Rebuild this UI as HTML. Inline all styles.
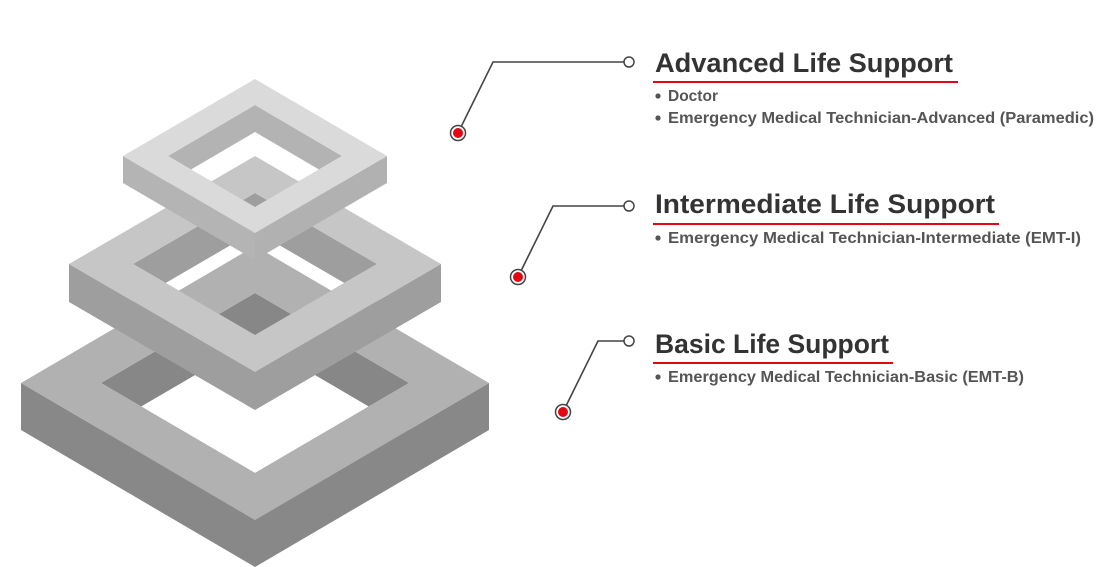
<!DOCTYPE html>
<html><head><meta charset="utf-8"><style>
html,body{margin:0;padding:0;background:#fff;}
svg{display:block;}
text{font-family:"Liberation Sans",sans-serif;font-weight:bold;}
</style></head><body>
<svg width="1112" height="567" viewBox="0 0 1112 567" xmlns="http://www.w3.org/2000/svg">
<!-- bottom frame -->
<polygon points="21,383 255,520 255,567 21,430" fill="#888888"/>
<polygon points="489,383 255,520 255,567 489,430" fill="#888888"/>
<path fill-rule="evenodd" fill="#878787" d="M255,293 L409,383 L255,473 L101,383 Z M255,340 L409,430 L255,520 L101,430 Z"/>
<path fill-rule="evenodd" fill="#b1b1b1" d="M255,246 L489,383 L255,520 L21,383 Z M255,293 L409,383 L255,473 L101,383 Z"/>
<!-- middle frame -->
<polygon points="69,264 255,372 255,410 69,302" fill="#9e9e9e"/>
<polygon points="441,264 255,372 255,410 441,302" fill="#9e9e9e"/>
<path fill-rule="evenodd" fill="#9e9e9e" d="M255,193 L377,264 L255,335 L133,264 Z M255,231 L377,302 L255,373 L133,302 Z"/>
<path fill-rule="evenodd" fill="#c6c6c6" d="M255,156 L441,264 L255,372 L69,264 Z M255,193 L377,264 L255,335 L133,264 Z"/>
<!-- top frame -->
<polygon points="123,156 255,233 255,260 123,183" fill="#b4b4b4"/>
<polygon points="387,156 255,233 255,260 387,183" fill="#b1b1b1"/>
<path fill-rule="evenodd" fill="#b3b3b3" d="M255,105 L342,156 L255,207 L168,156 Z M255,132 L342,183 L255,234 L168,183 Z"/>
<path fill-rule="evenodd" fill="#dadada" d="M255,79 L387,156 L255,233 L123,156 Z M255,105 L342,156 L255,207 L168,156 Z"/>

<!-- connectors -->
<g fill="none" stroke="#444" stroke-width="1.6">
<polyline points="460,129 493,62 624,62"/>
<polyline points="520,273 553,206 624,206"/>
<polyline points="565,408 598,341 624,341"/>
</g>
<g>
<circle cx="629" cy="62" r="5" fill="#fff" stroke="#444" stroke-width="1.5"/>
<circle cx="629" cy="206" r="5" fill="#fff" stroke="#444" stroke-width="1.5"/>
<circle cx="629" cy="341" r="5" fill="#fff" stroke="#444" stroke-width="1.5"/>
<circle cx="458" cy="133" r="7.5" fill="#fff" stroke="#444" stroke-width="1.5"/>
<circle cx="458" cy="133" r="5" fill="#e30613"/>
<circle cx="518" cy="277" r="7.5" fill="#fff" stroke="#444" stroke-width="1.5"/>
<circle cx="518" cy="277" r="5" fill="#e30613"/>
<circle cx="563" cy="412" r="7.5" fill="#fff" stroke="#444" stroke-width="1.5"/>
<circle cx="563" cy="412" r="5" fill="#e30613"/>
</g>

<!-- underlines -->
<rect x="653" y="81" width="305" height="2" fill="#e30613"/>
<rect x="653" y="223" width="346" height="2" fill="#e30613"/>
<rect x="653" y="362" width="240" height="2" fill="#e30613"/>

<!-- headings -->
<g fill="#333" font-size="27">
<text x="655" y="72" textLength="298" lengthAdjust="spacingAndGlyphs">Advanced Life Support</text>
<text x="655" y="213" textLength="340" lengthAdjust="spacingAndGlyphs">Intermediate Life Support</text>
<text x="655" y="353" textLength="234" lengthAdjust="spacingAndGlyphs">Basic Life Support</text>
</g>
<!-- bullets -->
<g fill="#555">
<circle cx="658" cy="96" r="2.6"/>
<circle cx="658" cy="118" r="2.6"/>
<circle cx="658" cy="238" r="2.6"/>
<circle cx="658" cy="377" r="2.6"/>
</g>
<g fill="#555" font-size="15.5">
<text x="668" y="101" textLength="50" lengthAdjust="spacingAndGlyphs">Doctor</text>
<text x="668" y="123" textLength="426" lengthAdjust="spacingAndGlyphs">Emergency Medical Technician-Advanced (Paramedic)</text>
<text x="668" y="243" textLength="413" lengthAdjust="spacingAndGlyphs">Emergency Medical Technician-Intermediate (EMT-I)</text>
<text x="668" y="382" textLength="356" lengthAdjust="spacingAndGlyphs">Emergency Medical Technician-Basic (EMT-B)</text>
</g>
</svg>
</body></html>
